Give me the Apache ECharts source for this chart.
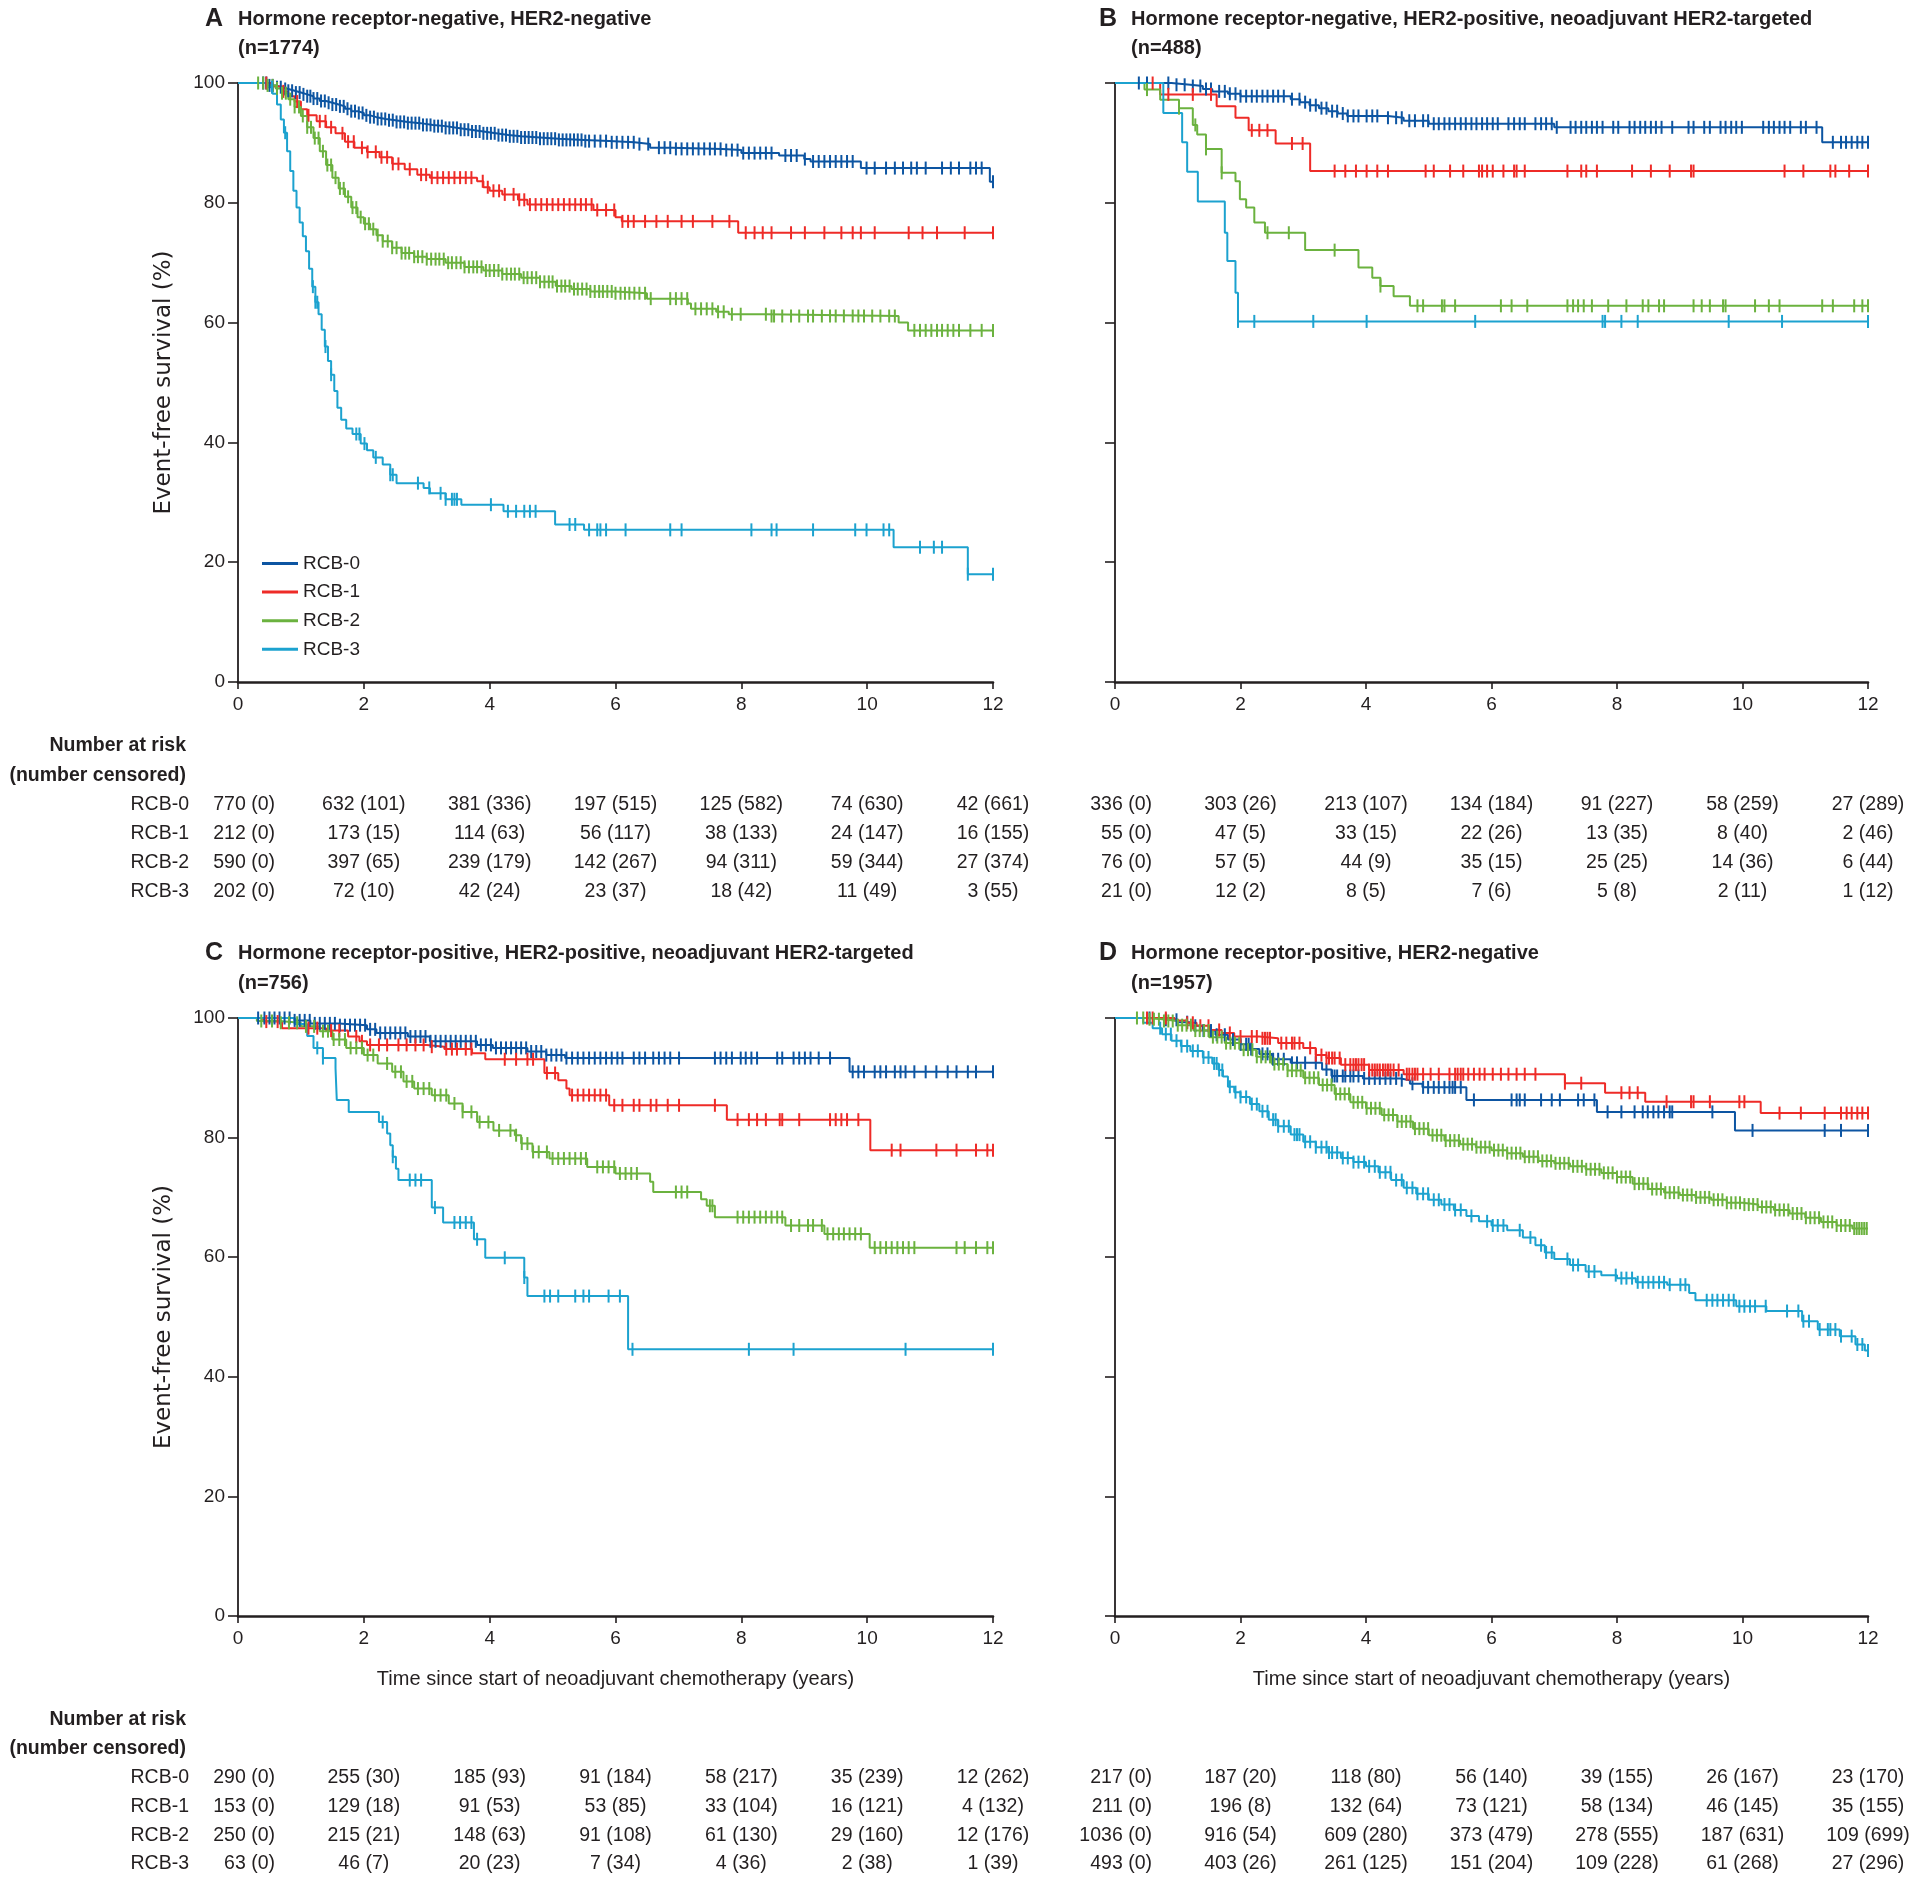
<!DOCTYPE html>
<html><head><meta charset="utf-8">
<script src="https://cdn.jsdelivr.net/npm/echarts@6/dist/echarts.min.js"></script>
<style>html,body{margin:0;padding:0;background:#fff}#c{width:1920px;height:1881px}</style>
</head><body><div id="c"></div>
<script>
// ---------------- DATA ----------------
const groups = ['RCB-0', 'RCB-1', 'RCB-2', 'RCB-3'];
const xTicks = [0, 2, 4, 6, 8, 10, 12];
const panelLetters = ['A', 'B', 'C', 'D'];
const panelTitles = [
  'Hormone receptor-negative, HER2-negative',
  'Hormone receptor-negative, HER2-positive, neoadjuvant HER2-targeted',
  'Hormone receptor-positive, HER2-positive, neoadjuvant HER2-targeted',
  'Hormone receptor-positive, HER2-negative'
];
const panelN = ['(n=1774)', '(n=488)', '(n=756)', '(n=1957)'];

// Panel A step curves [time (years), event-free survival %]
const A0 = [[0,100],[0.35,100],[0.5,99.6],[0.6,99.3],[0.7,99],[0.8,98.7],[0.9,98.4],[1.0,98.1],[1.1,97.8],[1.2,97.4],[1.3,97.0],[1.4,96.7],[1.5,96.4],[1.6,96.1],[1.7,95.7],[1.8,95.3],[1.9,95.0],[2.0,94.6],[2.1,94.3],[2.2,94.0],[2.35,93.8],[2.5,93.5],[2.7,93.3],[2.9,93.0],[3.1,92.8],[3.3,92.5],[3.5,92.2],[3.7,91.9],[3.9,91.6],[4.1,91.3],[4.3,91.1],[4.5,90.9],[4.8,90.7],[5.1,90.5],[5.5,90.3],[5.9,90.1],[6.3,89.8],[6.55,89.2],[6.9,89.0],[7.7,88.8],[8.0,88.3],[8.6,87.9],[9.0,87.3],[9.1,86.9],[9.9,85.8],[11.95,83.5],[12,83.5]];
const A1 = [[0,100],[0.4,100],[0.55,99.4],[0.7,98.6],[0.8,97.8],[0.9,96.9],[1.0,95.6],[1.1,94.6],[1.25,93.6],[1.4,92.6],[1.55,91.6],[1.7,90.2],[1.85,89.2],[2.05,88.5],[2.25,87.6],[2.45,86.5],[2.65,85.6],[2.85,84.7],[3.05,84.2],[3.8,83.6],[3.9,82.6],[4.0,82.0],[4.2,81.4],[4.45,80.5],[4.6,79.7],[5.65,78.8],[6.0,77.6],[6.1,76.9],[7.95,75.0],[12,75.0]];
const A2 = [[0,100],[0.3,100],[0.45,99.6],[0.6,99.1],[0.7,98.3],[0.8,97.3],[0.9,96.0],[1.0,94.5],[1.1,92.6],[1.2,90.8],[1.3,88.6],[1.4,86.3],[1.5,84.2],[1.6,82.4],[1.7,81.0],[1.8,79.2],[1.9,77.6],[2.0,76.5],[2.1,75.6],[2.2,74.6],[2.3,73.6],[2.45,72.5],[2.6,71.6],[2.8,71.0],[3.0,70.6],[3.3,70.0],[3.6,69.3],[3.9,68.7],[4.2,68.1],[4.5,67.5],[4.8,66.8],[5.05,66.1],[5.3,65.6],[5.6,65.2],[6.0,64.9],[6.5,64.0],[7.15,63.2],[7.2,62.3],[7.6,61.8],[7.8,61.4],[8.4,61.1],[10.5,60.0],[10.65,58.7],[12,58.7]];
const A3 = [[0,100],[0.35,100],[0.45,99.3],[0.55,98.2],[0.62,96.4],[0.68,93.9],[0.73,91.7],[0.78,88.6],[0.83,85.3],[0.88,82.0],[0.93,79.2],[0.98,76.7],[1.03,74.4],[1.08,71.9],[1.13,69.0],[1.18,66.0],[1.23,63.4],[1.28,61.4],[1.33,58.8],[1.38,56.0],[1.43,53.6],[1.48,51.3],[1.53,48.6],[1.58,45.8],[1.64,43.8],[1.72,42.3],[1.82,41.4],[1.95,39.8],[2.05,38.7],[2.15,37.5],[2.3,36.3],[2.42,34.6],[2.52,33.2],[2.95,32.4],[3.05,31.5],[3.3,30.5],[3.55,29.6],[4.22,28.5],[5.04,26.3],[5.5,25.4],[10.42,22.5],[11.6,18.0],[12,18.0]];
// Panel A censoring times
const A0c = [0.4,0.45,0.5,0.55,0.62,0.68,0.75,0.8,0.86,0.92,0.98,1.04,1.1,1.15,1.2,1.26,1.32,1.38,1.44,1.5,1.56,1.62,1.68,1.74,1.8,1.86,1.92,1.98,2.04,2.1,2.16,2.22,2.28,2.34,2.4,2.46,2.52,2.58,2.64,2.7,2.76,2.82,2.88,2.94,3.0,3.06,3.12,3.18,3.24,3.3,3.36,3.42,3.48,3.54,3.6,3.66,3.72,3.78,3.84,3.9,3.96,4.02,4.08,4.14,4.2,4.26,4.32,4.38,4.44,4.5,4.56,4.62,4.68,4.74,4.8,4.86,4.92,4.98,5.04,5.1,5.16,5.22,5.28,5.34,5.4,5.46,5.52,5.58,5.67,5.76,5.85,5.94,6.02,6.11,6.2,6.29,6.38,6.52,6.69,6.78,6.87,6.96,7.05,7.14,7.23,7.32,7.41,7.5,7.58,7.67,7.76,7.85,7.94,8.03,8.12,8.21,8.3,8.39,8.48,8.7,8.79,8.88,9.01,9.14,9.23,9.32,9.41,9.5,9.59,9.68,9.77,9.99,10.12,10.3,10.44,10.57,10.7,10.79,10.93,11.19,11.33,11.46,11.64,11.73,11.82,12.0];
const A1c = [0.45,0.72,0.94,1.12,1.3,1.39,1.48,1.66,1.75,1.84,1.97,2.06,2.19,2.28,2.37,2.46,2.55,2.73,2.91,2.99,3.08,3.17,3.26,3.35,3.44,3.53,3.62,3.71,3.89,3.97,4.06,4.15,4.24,4.38,4.47,4.55,4.64,4.73,4.82,4.91,5.0,5.09,5.18,5.27,5.36,5.45,5.53,5.62,5.71,5.85,5.98,6.11,6.2,6.29,6.47,6.65,6.83,7.05,7.23,7.54,7.81,8.07,8.21,8.34,8.48,8.79,9.01,9.32,9.59,9.77,9.9,10.12,10.66,10.88,11.11,11.55,12.0];
const A2c = [0.32,0.4,0.47,0.55,0.62,0.7,0.76,0.83,0.9,0.97,1.03,1.1,1.16,1.22,1.28,1.35,1.42,1.48,1.55,1.62,1.68,1.75,1.82,1.88,1.95,2.02,2.08,2.15,2.22,2.3,2.38,2.45,2.52,2.6,2.66,2.72,2.8,2.86,2.93,3.0,3.07,3.14,3.2,3.27,3.34,3.4,3.47,3.54,3.6,3.67,3.74,3.8,3.87,3.94,4.0,4.07,4.14,4.2,4.27,4.34,4.4,4.47,4.54,4.6,4.67,4.74,4.8,4.87,4.94,5.0,5.07,5.14,5.2,5.27,5.34,5.4,5.47,5.54,5.6,5.67,5.74,5.8,5.87,5.94,6.0,6.08,6.15,6.22,6.3,6.38,6.47,6.56,6.87,6.96,7.05,7.14,7.27,7.36,7.45,7.54,7.63,7.72,7.85,7.99,8.39,8.48,8.52,8.65,8.79,8.92,9.06,9.14,9.28,9.41,9.5,9.63,9.77,9.86,9.95,10.08,10.21,10.35,10.44,10.75,10.84,10.93,11.02,11.11,11.19,11.28,11.37,11.46,11.64,11.82,12.0];
const A3c = [0.54,0.75,1.19,1.23,1.26,1.39,1.48,1.88,1.93,2.01,2.19,2.42,2.46,2.86,3.04,3.22,3.3,3.4,3.44,3.48,4.02,4.29,4.42,4.55,4.64,4.73,5.27,5.36,5.58,5.71,5.76,5.85,6.16,6.87,7.05,8.16,8.48,8.56,9.14,9.81,9.99,10.26,10.35,10.84,11.06,11.19,11.6,12.0];

// Panel B
const B0 = [[0,100],[0.6,100],[0.9,99.7],[1.2,99.5],[1.4,99.0],[1.55,98.6],[1.8,98.2],[2.0,97.8],[2.8,97.3],[2.95,96.8],[3.1,96.3],[3.25,95.8],[3.4,95.3],[3.55,94.9],[3.7,94.5],[4.35,94.2],[4.6,93.7],[5.0,93.2],[7.0,92.6],[11.27,90.1],[12,90.1]];
const B1 = [[0,100],[0.72,98.1],[1.62,96.1],[1.92,94.2],[2.13,92.1],[2.56,89.9],[3.11,85.3],[12,85.3]];
const B2 = [[0,100],[0.47,98.9],[0.72,97.2],[1.02,95.8],[1.24,93.0],[1.31,91.4],[1.45,89.0],[1.7,85.0],[1.92,83.6],[1.99,80.6],[2.09,79.2],[2.22,76.7],[2.39,75.0],[3.03,72.1],[3.88,69.2],[4.1,67.5],[4.23,66.1],[4.44,64.4],[4.7,62.8],[12,62.8]];
const B3 = [[0,100],[0.77,95.0],[1.07,90.1],[1.15,85.2],[1.32,80.2],[1.75,75.0],[1.79,70.3],[1.92,65.0],[1.96,60.2],[12,60.2]];
const B0c = [0.38,0.51,0.85,0.98,1.11,1.24,1.36,1.45,1.53,1.66,1.75,1.83,1.92,2.0,2.09,2.18,2.26,2.35,2.43,2.52,2.6,2.69,2.82,2.94,3.03,3.11,3.2,3.29,3.37,3.46,3.54,3.63,3.71,3.8,3.88,4.01,4.1,4.18,4.35,4.48,4.57,4.69,4.78,4.91,4.99,5.08,5.16,5.25,5.33,5.42,5.51,5.59,5.68,5.76,5.85,5.93,6.02,6.1,6.27,6.36,6.45,6.53,6.7,6.79,6.87,6.96,7.04,7.26,7.34,7.43,7.51,7.6,7.68,7.77,7.94,8.02,8.2,8.28,8.37,8.45,8.54,8.62,8.71,8.88,9.14,9.22,9.39,9.48,9.65,9.73,9.82,9.9,9.99,10.33,10.42,10.5,10.59,10.67,10.76,10.93,11.01,11.18,11.44,11.57,11.65,11.74,11.83,11.91,12.0];
const B1c = [0.6,0.85,1.24,1.53,2.18,2.3,2.43,2.82,2.99,3.5,3.67,3.84,4.01,4.18,4.35,4.95,5.08,5.34,5.55,5.8,5.85,5.93,6.02,6.19,6.36,6.4,6.53,7.21,7.43,7.51,7.68,8.24,8.54,8.84,9.18,9.22,10.67,10.97,11.4,11.48,11.7,12.0];
const B2c = [0.51,1.02,1.28,1.45,1.7,2.43,2.77,3.5,4.23,4.82,4.91,5.21,5.25,5.42,6.15,6.32,6.57,7.21,7.3,7.38,7.47,7.6,7.86,8.15,8.41,8.5,8.67,8.75,9.22,9.35,9.48,9.69,9.73,10.2,10.42,10.59,11.27,11.44,11.78,11.91,12.0];
const B3c = [1.96,2.22,3.16,4.01,5.74,7.77,7.81,8.07,8.33,9.78,10.63,12.0];

// Panel C
const C0 = [[0,100],[0.5,100],[0.9,99.6],[1.15,99.1],[1.6,98.8],[2.05,98.1],[2.2,97.5],[2.7,96.9],[3.05,96.1],[3.8,95.5],[4.05,95.0],[4.6,94.4],[4.9,93.8],[5.2,93.3],[9.72,91.0],[12,91.0]];
const C1 = [[0,100],[0.4,99.4],[0.7,98.3],[1.4,97.9],[1.75,96.9],[1.93,96.1],[2.05,95.5],[3.0,95.2],[3.28,94.8],[3.72,94.1],[3.93,93.1],[4.87,90.8],[5.09,89.6],[5.22,88.2],[5.27,87.1],[5.9,85.4],[7.77,83.0],[10.05,77.9],[12,77.9]];
const C2 = [[0,100],[0.3,99.5],[0.65,99.2],[1.0,98.6],[1.3,97.8],[1.5,96.4],[1.72,95.0],[2.0,93.8],[2.22,92.4],[2.45,91.0],[2.63,89.4],[2.8,88.2],[3.08,87.1],[3.35,85.7],[3.57,84.3],[3.8,82.6],[4.06,81.2],[4.4,80.4],[4.5,79.0],[4.68,77.6],[4.95,76.5],[5.55,75.1],[6.0,74.0],[6.55,72.6],[6.6,70.9],[7.36,69.7],[7.45,68.6],[7.58,66.7],[8.7,65.3],[9.32,63.9],[10.04,61.6],[12,61.6]];
const C3 = [[0,100],[0.9,99.0],[1.1,97.0],[1.2,95.0],[1.35,93.3],[1.55,91.6],[1.57,86.3],[1.76,84.3],[2.24,82.6],[2.37,80.7],[2.42,78.7],[2.46,76.8],[2.51,74.8],[2.55,72.9],[3.08,68.3],[3.26,65.8],[3.75,63.0],[3.93,59.9],[4.55,56.6],[4.6,53.5],[6.2,44.6],[12,44.6]];
const C0c = [0.32,0.42,0.5,0.58,0.66,0.74,0.82,0.9,0.98,1.06,1.14,1.22,1.3,1.38,1.46,1.54,1.62,1.7,1.78,1.86,1.94,2.02,2.1,2.18,2.26,2.34,2.42,2.5,2.58,2.66,2.74,2.82,2.9,2.98,3.06,3.14,3.22,3.3,3.38,3.46,3.54,3.62,3.7,3.78,3.86,3.94,4.02,4.1,4.18,4.26,4.34,4.42,4.5,4.58,4.66,4.74,4.82,4.9,4.98,5.06,5.14,5.22,5.31,5.4,5.49,5.58,5.67,5.76,5.85,5.94,6.03,6.11,6.29,6.38,6.47,6.6,6.69,6.78,6.87,7.01,7.58,7.67,7.76,7.85,7.99,8.07,8.16,8.25,8.57,8.65,8.83,8.92,9.01,9.1,9.23,9.41,9.77,9.86,9.95,10.12,10.21,10.3,10.44,10.53,10.61,10.75,10.93,11.1,11.28,11.42,11.6,11.73,12.0];
const C1c = [0.45,0.63,1.12,1.26,1.48,1.61,1.88,1.97,2.1,2.24,2.37,2.55,2.68,2.82,2.95,3.08,3.31,3.4,3.48,3.62,3.71,4.24,4.42,4.6,4.69,4.91,5.04,5.31,5.4,5.49,5.58,5.67,5.76,5.85,5.98,6.11,6.29,6.38,6.56,6.65,6.83,7.01,7.58,7.94,8.12,8.25,8.39,8.61,8.65,8.92,9.41,9.5,9.59,9.68,9.86,10.39,10.53,11.1,11.42,11.73,11.91,12.0];
const C2c = [0.37,0.54,0.68,0.81,0.94,1.08,1.21,1.35,1.43,1.52,1.61,1.7,1.79,1.88,1.97,2.06,2.15,2.37,2.5,2.59,2.68,2.77,2.86,2.95,3.04,3.13,3.22,3.31,3.44,3.57,3.71,3.84,3.98,4.15,4.33,4.42,4.51,4.6,4.69,4.78,4.91,5.0,5.09,5.18,5.27,5.36,5.45,5.53,5.71,5.8,5.89,5.98,6.07,6.16,6.25,6.34,6.96,7.05,7.14,7.5,7.54,7.94,8.03,8.12,8.21,8.3,8.39,8.48,8.57,8.65,8.79,8.92,9.06,9.14,9.28,9.37,9.46,9.55,9.63,9.72,9.81,9.9,10.12,10.21,10.3,10.39,10.48,10.57,10.66,10.75,11.42,11.55,11.73,11.91,12.0];
const C3c = [1.26,1.35,2.3,2.46,2.73,2.82,2.91,3.13,3.44,3.53,3.62,3.71,3.8,4.24,4.55,4.87,4.96,5.09,5.36,5.49,5.58,5.89,6.07,6.27,8.12,8.83,10.61,12.0];

// Panel D
const D0 = [[0,100],[0.6,100],[0.8,99.7],[1.0,99.3],[1.2,98.7],[1.4,97.9],[1.6,97.2],[1.8,96.4],[2.0,95.6],[2.15,94.8],[2.3,94.0],[2.5,93.1],[2.8,92.5],[3.3,91.4],[3.45,90.3],[3.95,89.9],[4.55,89.6],[4.7,89.0],[4.9,88.4],[5.6,86.3],[7.68,84.3],[9.88,81.2],[12,81.2]];
const D1 = [[0,100],[0.7,100],[0.95,99.6],[1.15,99.2],[1.3,98.7],[1.5,98.0],[1.7,97.5],[1.9,96.9],[2.3,96.6],[2.6,95.8],[3.0,95.0],[3.2,93.8],[3.37,93.3],[3.6,92.2],[4.05,91.3],[4.6,90.6],[7.17,89.1],[7.81,87.5],[8.45,86.0],[10.29,84.1],[12,84.1]];
const D2 = [[0,100],[0.3,100],[0.5,99.8],[0.75,99.5],[1.0,98.8],[1.25,97.9],[1.5,96.8],[1.75,95.8],[2.0,94.7],[2.25,93.5],[2.5,92.3],[2.75,91.2],[3.0,90.0],[3.25,88.8],[3.5,87.3],[3.75,85.9],[4.0,84.9],[4.25,83.8],[4.5,82.7],[4.75,81.5],[5.0,80.4],[5.25,79.5],[5.5,78.9],[5.75,78.4],[6.0,77.9],[6.25,77.4],[6.5,76.8],[6.75,76.1],[7.0,75.7],[7.25,75.2],[7.5,74.7],[7.75,74.1],[8.0,73.4],[8.25,72.3],[8.5,71.4],[8.75,70.8],[9.0,70.4],[9.25,70.0],[9.5,69.6],[9.75,69.1],[10.0,68.8],[10.25,68.4],[10.5,67.9],[10.75,67.3],[11.0,66.6],[11.25,65.9],[11.5,65.3],[11.75,64.8],[12,64.8]];
const D3 = [[0,100],[0.3,100],[0.45,99.2],[0.6,98.3],[0.75,97.3],[0.9,96.2],[1.05,95.3],[1.2,94.5],[1.4,93.4],[1.55,92.4],[1.65,91.3],[1.72,90.2],[1.8,88.5],[1.9,87.6],[2.0,86.8],[2.15,85.6],[2.3,84.4],[2.45,83.0],[2.6,81.9],[2.8,80.5],[3.0,79.3],[3.2,78.4],[3.4,77.5],[3.6,76.6],[3.8,75.9],[4.0,75.2],[4.2,74.2],[4.4,72.9],[4.6,71.6],[4.8,70.6],[5.0,69.6],[5.2,68.8],[5.4,67.9],[5.6,66.9],[5.8,66.0],[6.0,65.3],[6.25,64.5],[6.5,63.3],[6.7,62.0],[6.85,60.8],[7.0,59.7],[7.25,58.7],[7.5,57.6],[7.75,57.0],[8.0,56.5],[8.3,55.8],[8.8,55.4],[9.15,54.0],[9.25,52.8],[9.9,51.8],[10.38,51.0],[10.95,49.3],[11.2,47.9],[11.55,46.8],[11.8,45.4],[11.95,44.4],[12,44.4]];
const D0c = [0.55,0.81,0.98,1.15,1.28,1.41,1.53,1.62,1.75,1.88,2.0,2.09,2.13,2.17,2.35,2.43,2.52,2.6,2.69,2.82,2.9,3.03,3.2,3.37,3.46,3.5,3.54,3.63,3.67,3.75,3.8,3.88,3.97,4.05,4.14,4.22,4.31,4.39,4.48,4.57,4.74,4.91,4.99,5.08,5.16,5.25,5.33,5.38,5.42,5.51,5.72,6.32,6.4,6.45,6.53,6.79,6.96,7.09,7.38,7.47,7.64,7.85,8.07,8.28,8.41,8.49,8.58,8.66,8.75,8.84,8.88,9.52,10.16,11.31,11.57,12.0];
const D1c = [0.51,0.6,0.81,1.15,1.24,1.36,1.49,1.66,1.83,2.0,2.18,2.26,2.35,2.39,2.43,2.47,2.65,2.73,2.82,2.86,2.94,3.11,3.2,3.29,3.37,3.41,3.46,3.5,3.58,3.67,3.75,3.8,3.84,3.88,3.93,3.97,4.05,4.1,4.14,4.18,4.22,4.27,4.31,4.35,4.39,4.44,4.52,4.65,4.69,4.74,4.78,4.82,4.91,5.03,5.16,5.33,5.42,5.46,5.51,5.55,5.63,5.72,5.81,5.89,6.02,6.15,6.27,6.4,6.53,6.7,7.17,7.43,8.07,8.2,8.33,8.79,9.18,9.22,9.48,9.95,10.03,10.59,10.93,11.31,11.57,11.66,11.74,11.83,11.91,12.0];
const D2c = [0.35,0.45,0.55,0.62,0.7,0.78,0.85,0.92,1.0,1.07,1.14,1.21,1.28,1.35,1.42,1.49,1.56,1.63,1.7,1.77,1.84,1.91,1.98,2.05,2.12,2.19,2.26,2.33,2.4,2.47,2.54,2.61,2.68,2.75,2.82,2.89,2.96,3.03,3.1,3.17,3.24,3.31,3.38,3.45,3.52,3.59,3.66,3.73,3.8,3.87,3.94,4.01,4.08,4.15,4.22,4.29,4.36,4.43,4.5,4.57,4.64,4.71,4.78,4.85,4.92,4.99,5.06,5.13,5.2,5.27,5.34,5.41,5.48,5.55,5.62,5.69,5.76,5.83,5.9,5.97,6.04,6.11,6.18,6.25,6.32,6.39,6.46,6.53,6.6,6.67,6.74,6.81,6.88,6.95,7.02,7.09,7.16,7.23,7.3,7.37,7.44,7.51,7.58,7.65,7.72,7.79,7.86,7.93,8.0,8.07,8.14,8.21,8.28,8.35,8.42,8.49,8.56,8.63,8.7,8.77,8.84,8.91,8.98,9.05,9.12,9.19,9.26,9.33,9.4,9.47,9.54,9.61,9.68,9.75,9.82,9.89,9.96,10.03,10.1,10.17,10.24,10.31,10.38,10.45,10.52,10.59,10.66,10.73,10.8,10.87,10.94,11.01,11.08,11.15,11.22,11.29,11.36,11.43,11.5,11.57,11.64,11.71,11.78,11.82,11.86,11.9,11.94,11.98];
const D3c = [0.72,0.81,0.89,0.98,1.06,1.15,1.24,1.32,1.41,1.49,1.58,1.62,1.66,1.71,1.83,1.92,2.0,2.09,2.18,2.26,2.35,2.43,2.52,2.56,2.6,2.69,2.77,2.86,2.9,2.94,3.03,3.11,3.2,3.29,3.37,3.41,3.46,3.54,3.63,3.71,3.8,3.88,3.97,4.05,4.14,4.22,4.31,4.39,4.48,4.57,4.65,4.74,4.82,4.91,4.99,5.08,5.16,5.25,5.33,5.42,5.51,5.68,5.93,6.02,6.1,6.19,6.45,6.62,6.79,6.87,6.96,7.21,7.3,7.38,7.55,7.64,7.98,8.07,8.15,8.24,8.33,8.41,8.5,8.58,8.67,8.75,8.84,9.01,9.09,9.43,9.52,9.6,9.69,9.78,9.86,9.95,10.03,10.12,10.2,10.37,10.71,10.89,10.97,11.06,11.23,11.36,11.4,11.48,11.57,11.74,11.83,11.91,12.0];

// Numbers at risk (number censored), rows RCB-0..3, columns at 0,2,...,12 years
const riskA_n = [[770,632,381,197,125,74,42],[212,173,114,56,38,24,16],[590,397,239,142,94,59,27],[202,72,42,23,18,11,3]];
const riskA_c = [[0,101,336,515,582,630,661],[0,15,63,117,133,147,155],[0,65,179,267,311,344,374],[0,10,24,37,42,49,55]];
const riskB_n = [[336,303,213,134,91,58,27],[55,47,33,22,13,8,2],[76,57,44,35,25,14,6],[21,12,8,7,5,2,1]];
const riskB_c = [[0,26,107,184,227,259,289],[0,5,15,26,35,40,46],[0,5,9,15,25,36,44],[0,2,5,6,8,11,12]];
const riskC_n = [[290,255,185,91,58,35,12],[153,129,91,53,33,16,4],[250,215,148,91,61,29,12],[63,46,20,7,4,2,1]];
const riskC_c = [[0,30,93,184,217,239,262],[0,18,53,85,104,121,132],[0,21,63,108,130,160,176],[0,7,23,34,36,38,39]];
const riskD_n = [[217,187,118,56,39,26,23],[211,196,132,73,58,46,35],[1036,916,609,373,278,187,109],[493,403,261,151,109,61,27]];
const riskD_c = [[0,20,80,140,155,167,170],[0,8,64,121,134,145,155],[0,54,280,479,555,631,699],[0,26,125,204,228,268,296]];

// ---------------- LAYOUT / STYLE ----------------
const colors = ['#0d55a2', '#ee2b27', '#6bb23f', '#1ca2cf'];
const ink = '#231f20';
const FONT = '"Liberation Sans", Arial, sans-serif';
const grids = [
  {left: 238, top: 83, width: 755, height: 599},
  {left: 1115, top: 83, width: 753, height: 599},
  {left: 238, top: 1018, width: 755, height: 598},
  {left: 1115, top: 1018, width: 753, height: 598}
];
const titleY = [[19, 48], [19, 48], [953, 983], [953, 983]];
const titleX = [[205, 238], [1099, 1131], [205, 238], [1099, 1131]];
const tableY = [[746, 776, 805, 834, 863, 892], [1720, 1749, 1778, 1807, 1836, 1864]];

const panels = [
  {curves: [A0, A1, A2, A3], cens: [A0c, A1c, A2c, A3c], rn: riskA_n, rc: riskA_c},
  {curves: [B0, B1, B2, B3], cens: [B0c, B1c, B2c, B3c], rn: riskB_n, rc: riskB_c},
  {curves: [C0, C1, C2, C3], cens: [C0c, C1c, C2c, C3c], rn: riskC_n, rc: riskC_c},
  {curves: [D0, D1, D2, D3], cens: [D0c, D1c, D2c, D3c], rn: riskD_n, rc: riskD_c}
];

function survAt(steps, t) {
  let s = steps[0][1];
  for (const p of steps) { if (p[0] <= t + 1e-9) s = p[1]; else break; }
  return s;
}

const xAxes = [], yAxes = [], series = [];
panels.forEach((p, i) => {
  xAxes.push({
    type: 'value', gridIndex: i, min: 0, max: 12, interval: 2,
    axisLine: {show: true, onZero: false, lineStyle: {color: ink, width: 2.6}},
    axisTick: {show: true, length: 7, lineStyle: {color: ink, width: 1.6}},
    axisLabel: {show: true, margin: 13, color: ink, fontSize: 19, fontFamily: FONT},
    splitLine: {show: false},
    name: i >= 2 ? 'Time since start of neoadjuvant chemotherapy (years)' : '',
    nameLocation: 'middle', nameGap: 53,
    nameTextStyle: {color: ink, fontSize: 20, fontFamily: FONT}
  });
  yAxes.push({
    type: 'value', gridIndex: i, min: 0, max: 100, interval: 20,
    axisLine: {show: true, onZero: false, lineStyle: {color: ink, width: 1.8}},
    axisTick: {show: true, length: 10, lineStyle: {color: ink, width: 1.6}},
    axisLabel: {show: i % 2 === 0, margin: 13, color: ink, fontSize: 19, fontFamily: FONT},
    splitLine: {show: false},
    name: i % 2 === 0 ? 'Event-free survival (%)' : '',
    nameLocation: 'middle', nameGap: 62,
    nameTextStyle: {color: ink, fontSize: 23, fontFamily: '"DejaVu Sans", Verdana, sans-serif'}
  });
  p.curves.forEach((steps, g) => {
    series.push({
      type: 'line', name: groups[g], xAxisIndex: i, yAxisIndex: i, data: steps,
      step: 'end', symbol: 'none', showSymbol: false, silent: true, z: 2,
      lineStyle: {width: 2, color: colors[g]}, itemStyle: {color: colors[g]}
    });
  });
  p.cens.forEach((ts, g) => {
    series.push({
      type: 'scatter', name: groups[g], xAxisIndex: i, yAxisIndex: i,
      data: ts.map(t => [t, survAt(p.curves[g], t)]),
      symbol: 'rect', symbolSize: [2, 13], silent: true, z: 3,
      itemStyle: {color: colors[g], opacity: 1}
    });
  });
});

const chart = echarts.init(document.getElementById('c'), null, {renderer: 'canvas', width: 1920, height: 1881});
chart.setOption({
  animation: false,
  backgroundColor: '#ffffff',
  grid: grids.map(g => Object.assign({containLabel: false}, g)),
  xAxis: xAxes,
  yAxis: yAxes,
  legend: {
    show: true, selectedMode: false, orient: 'vertical', left: 262, top: 554, padding: 0,
    data: groups, icon: 'rect', itemWidth: 36, itemHeight: 3, itemGap: 9.6,
    textStyle: {color: ink, fontSize: 19, fontFamily: FONT, lineHeight: 19}
  },
  series: series
});

// Titles and risk tables
const gfx = [];
function txt(x, y, text, font, align) {
  gfx.push({type: 'text', x: x, y: y, silent: true,
    style: {text: text, font: font, fill: ink, textAlign: align || 'left', textVerticalAlign: 'middle', align: align || 'left', verticalAlign: 'middle'}});
}
panels.forEach((p, i) => {
  txt(titleX[i][0], titleY[i][0], panelLetters[i], 'bold 25px ' + FONT);
  txt(titleX[i][1], titleY[i][0], panelTitles[i], 'bold 20px ' + FONT);
  txt(titleX[i][1], titleY[i][1], panelN[i], 'bold 20px ' + FONT);
  const ty = tableY[i < 2 ? 0 : 1];
  if (i % 2 === 0) {
    txt(186, ty[0], 'Number at risk', 'bold 19.5px ' + FONT, 'right');
    txt(186, ty[1], '(number censored)', 'bold 19.5px ' + FONT, 'right');
    groups.forEach((g, r) => txt(189, ty[2 + r], g, '19.5px ' + FONT, 'right'));
  }
  for (let r = 0; r < 4; r++) {
    for (let k = 0; k < xTicks.length; k++) {
      const px = chart.convertToPixel({xAxisIndex: i}, xTicks[k]);
      const label = p.rn[r][k] + ' (' + p.rc[r][k] + ')';
      if (k === 0) txt(px + 37, ty[2 + r], label, '19.5px ' + FONT, 'right');
      else txt(px, ty[2 + r], label, '19.5px ' + FONT, 'center');
    }
  }
});
chart.setOption({graphic: {elements: gfx}});
</script>
</body></html>
